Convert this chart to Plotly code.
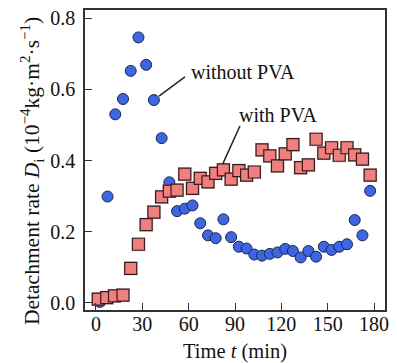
import plotly.graph_objects as go

# time points (min)
t_without = [2.5, 7.5, 12.5, 17.5, 22.5, 27.5, 32.5, 37.5, 42.5, 47.5, 52.5, 57.5,
             62.5, 67.5, 72.5, 77.5, 82.5, 87.5, 92.5, 97.5, 102.5, 107.5, 112.5, 117.5,
             122.5, 127.5, 132.5, 137.5, 142.5, 147.5, 152.5, 157.5, 162.5, 167.5, 172.5, 177.5]
d_without = [0.003, 0.299, 0.530, 0.573, 0.652, 0.746, 0.669, 0.570, 0.463, 0.339, 0.258, 0.265,
             0.274, 0.224, 0.190, 0.182, 0.235, 0.185, 0.158, 0.153, 0.136, 0.133, 0.138, 0.142,
             0.152, 0.146, 0.128, 0.146, 0.130, 0.158, 0.149, 0.158, 0.165, 0.233, 0.190, 0.315]

t_with = [1.5, 7.0, 12.0, 17.5, 22.5, 27.5, 32.5, 37.5, 42.5, 47.5, 52.5, 57.5,
          62.5, 67.5, 72.5, 77.5, 82.5, 87.5, 92.5, 97.5, 102.5, 107.5, 112.5, 117.5,
          122.5, 127.5, 132.5, 137.5, 142.5, 147.5, 152.5, 157.5, 162.5, 167.5, 172.5, 177.5]
d_with = [0.011, 0.015, 0.020, 0.022, 0.097, 0.165, 0.220, 0.255, 0.298, 0.314, 0.317, 0.362,
          0.322, 0.350, 0.340, 0.364, 0.374, 0.348, 0.372, 0.359, 0.368, 0.430, 0.413, 0.385,
          0.419, 0.445, 0.380, 0.388, 0.460, 0.421, 0.436, 0.415, 0.436, 0.416, 0.404, 0.359]

x_ticks = [0, 30, 60, 90, 120, 150, 180]
y_ticks = [0.0, 0.2, 0.4, 0.6, 0.8]
y_tick_text = ["0.0", "0.2", "0.4", "0.6", "0.8"]

FONT = "Liberation Serif"

fig = go.Figure()
fig.add_trace(go.Scatter(
    x=t_without, y=d_without, mode="markers", name="without PVA",
    marker=dict(symbol="circle", size=11, color="#3D66E0",
                line=dict(color="#1B2550", width=1)),
))
# soft halo under squares
fig.add_trace(go.Scatter(
    x=t_with, y=d_with, mode="markers", hoverinfo="skip", showlegend=False,
    marker=dict(symbol="square", size=14, color="rgba(120,120,120,0.35)",
                line=dict(width=0)),
))
fig.add_trace(go.Scatter(
    x=t_with, y=d_with, mode="markers", name="with PVA",
    marker=dict(symbol="square", size=12, color="#F08080",
                line=dict(color="#3A1A1A", width=1.2)),
))

# leader lines
fig.add_shape(type="line", x0=40.8, y0=0.581, x1=57.6, y1=0.635,
              line=dict(color="#222222", width=1.5))
fig.add_shape(type="line", x0=82.0, y0=0.390, x1=93.2, y1=0.497,
              line=dict(color="#222222", width=1.5))

fig.add_annotation(x=60.5, y=0.649, text="without PVA", showarrow=False,
                   xanchor="left", yanchor="middle",
                   font=dict(family=FONT, size=20, color="#111111"))
fig.add_annotation(x=91.0, y=0.528, text="with PVA", showarrow=False,
                   xanchor="left", yanchor="middle",
                   font=dict(family=FONT, size=20, color="#111111"))

# axis titles as paper annotations for precise placement
fig.add_annotation(xref="paper", yref="paper", x=0.5, y=0, yshift=-41,
                   text="Time <i>t</i> (min)", showarrow=False,
                   xanchor="center", yanchor="middle",
                   font=dict(family=FONT, size=20.5, color="#111111"))
fig.add_annotation(xref="paper", yref="paper", x=0, y=0.5, xshift=-53, yshift=-11,
                   text="Detachment rate <i>D</i><sub>i</sub> (10<sup>\u22124</sup>kg\u00b7m<sup>2</sup>\u00b7s<sup>\u22121</sup>)",
                   showarrow=False, textangle=-90,
                   xanchor="center", yanchor="middle",
                   font=dict(family=FONT, size=21.5, color="#111111"))

fig.update_layout(
    width=397, height=363,
    margin=dict(l=85, r=12, t=10, b=53, autoexpand=False),
    paper_bgcolor="white", plot_bgcolor="white",
    showlegend=False,
    font=dict(family=FONT, size=20, color="#111111"),
)
fig.update_xaxes(
    range=[-7.1, 187.1], tickvals=x_ticks, ticks="inside", ticklen=7, tickwidth=1.2,
    tickcolor="#333333", showline=True, linecolor="#333333", linewidth=1.5, mirror=True,
    showgrid=False, zeroline=False, automargin=False, ticklabelstandoff=-5,
    tickfont=dict(family=FONT, size=20),
)
fig.update_yaxes(
    range=[-0.0197, 0.823], tickvals=y_ticks, ticktext=y_tick_text, ticks="inside",
    ticklen=7, tickwidth=1.2, tickcolor="#333333", showline=True, linecolor="#333333",
    linewidth=1.5, mirror=True, showgrid=False, zeroline=False, automargin=False,
    ticklabelstandoff=4,
    tickfont=dict(family=FONT, size=20),
)

fig.write_html("out.html", config={"displayModeBar": False},
               post_script="document.body.style.margin='0px';")
